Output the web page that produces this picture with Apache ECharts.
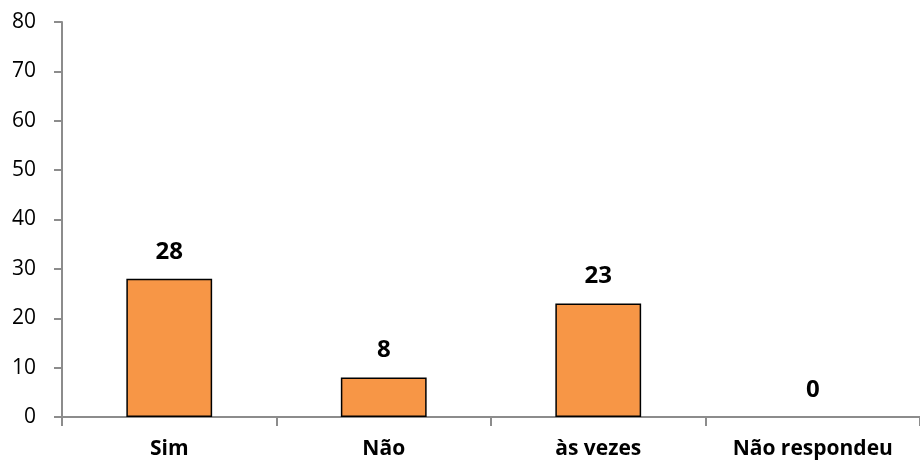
<!DOCTYPE html>
<html><head><meta charset="utf-8">
<script src="https://cdn.jsdelivr.net/npm/echarts@6/dist/echarts.min.js"></script>
<style>html,body{margin:0;padding:0;background:#fff}#c{width:920px;height:464px}</style>
</head><body><div id="c"></div>
<script>
const categories = ['Sim', 'Não', 'às vezes', 'Não respondeu'];
const values = [28, 8, 23, 0];
const yTicks = [0, 10, 20, 30, 40, 50, 60, 70, 80];

const chart = echarts.init(document.getElementById('c'));
const font = '"Open Sans", "Noto Sans", sans-serif';
chart.setOption({
  animation: false,
  grid: { left: 62, right: -8, top: 22, bottom: 47 },
  xAxis: {
    type: 'category',
    data: categories,
    axisLine: { lineStyle: { color: '#8c8c8c', width: 2 } },
    axisTick: { show: true, length: 9, lineStyle: { color: '#8c8c8c', width: 2 } },
    axisLabel: { color: '#000', fontFamily: font, fontWeight: 'bold', fontSize: 21, margin: 22 }
  },
  yAxis: {
    type: 'value',
    min: yTicks[0], max: yTicks[yTicks.length - 1], interval: 10,
    splitLine: { show: false },
    axisLine: { show: true, lineStyle: { color: '#8c8c8c', width: 2 } },
    axisTick: { show: true, length: 8, lineStyle: { color: '#8c8c8c', width: 2 } },
    axisLabel: { color: '#000', fontFamily: font, fontSize: 21, margin: 26 }
  },
  series: [{
    type: 'bar',
    data: values.map(v => ({ value: v, itemStyle: { borderWidth: v === 0 ? 0 : 1.5 } })),
    barWidth: '40%',
    itemStyle: { color: '#F79646', borderColor: '#000', borderWidth: 1.5 },
    label: { show: true, position: 'top', distance: 15, color: '#000', fontFamily: font, fontWeight: 'bold', fontSize: 24 }
  }]
});
</script></body></html>
